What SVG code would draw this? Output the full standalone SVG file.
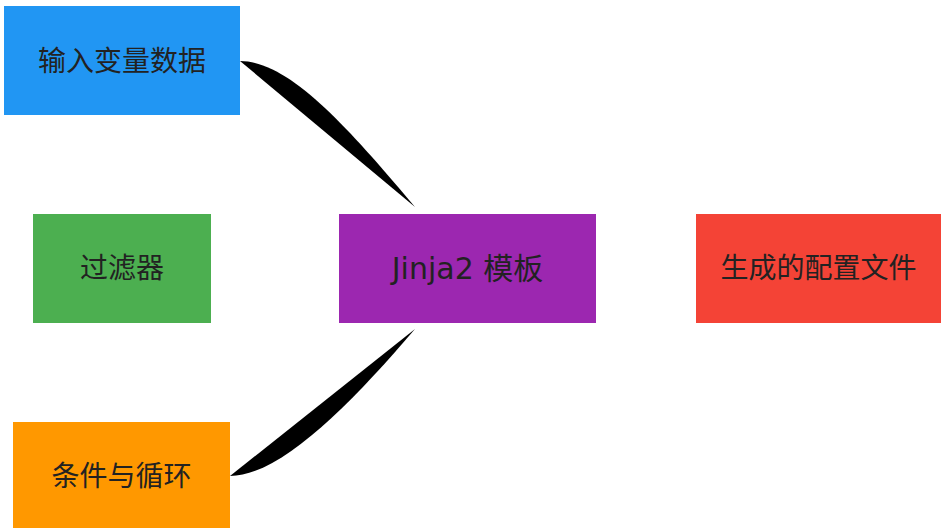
<svg xmlns="http://www.w3.org/2000/svg" width="941" height="528" viewBox="0 0 941 528">
<style>
.lbl{font-family:"DejaVu Sans","Noto Sans CJK SC",sans-serif;font-size:28px;fill:#222;text-anchor:middle;dominant-baseline:central}
.edge{fill:#000;stroke:none}
</style>
<rect width="941" height="528" fill="#fff"/>
<g id="connectors">
<path class="edge" d="M240,61 C290,61 350,130 415,207"/>
<path class="edge" d="M230,476 C280,476 350,405 415,329"/>
</g>
<g id="input">
<rect x="4" y="6" width="236" height="109" fill="#2196F3"/>
<text class="lbl" x="122" y="61">输入变量数据</text>
</g>
<g id="filters">
<rect x="33" y="214" width="178" height="109" fill="#4CAF50"/>
<text class="lbl" x="122" y="268.5">过滤器</text>
</g>
<g id="template">
<rect x="339" y="214" width="257" height="109" fill="#9C27B0"/>
<text class="lbl" x="467.5" y="268.5" style="font-size:30px">Jinja2 模板</text>
</g>
<g id="output">
<rect x="696" y="214" width="245" height="109" fill="#F44336"/>
<text class="lbl" x="818.5" y="268.5">生成的配置文件</text>
</g>
<g id="control">
<rect x="13" y="422" width="217" height="106" fill="#FF9800"/>
<text class="lbl" x="121.5" y="476">条件与循环</text>
</g>
</svg>
